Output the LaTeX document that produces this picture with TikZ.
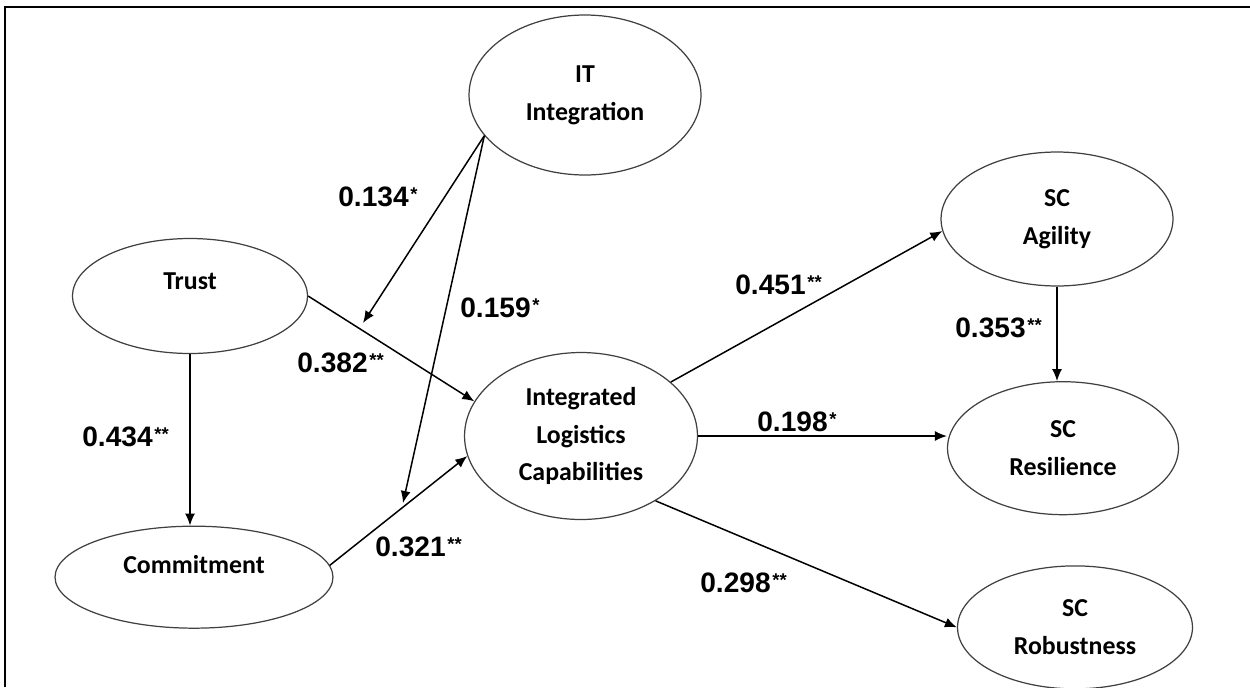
\documentclass[tikz,border=0pt]{standalone}
\usepackage{fontspec}
\setmainfont{Carlito}
\newfontfamily\numfont{Liberation Sans}
\usetikzlibrary{
  shapes.geometric,
  calc,
  positioning,
  arrows.meta
}
\newcommand{\sig}[2]{#1\kern1pt\raisebox{3.5pt}{\fontsize{10.5}{11}\selectfont #2}}

\begin{document}
\begin{tikzpicture}[x=0.02cm,y=-0.02cm,
    >={Latex[length=2.4mm,width=2mm]},
    construct/.style={ellipse,draw=black!75,line width=0.7pt,align=center,inner sep=0pt,
      font=\bfseries\fontsize{14.7}{21.5}\selectfont},
    coef/.style={anchor=west,inner sep=0pt,font=\numfont\bfseries\fontsize{16}{18}\selectfont},
    link/.style={->,line width=0.85pt}]
    \useasboundingbox (0,0) rectangle (1250,687);
    \draw[line width=0.05cm] (5,687) -- (5,7) -- (1250,7);

    \node[construct,minimum width=4.64cm,minimum height=3.2cm] (it) at (585,95) {IT\\Integration};
    \node[construct,minimum width=4.7cm,minimum height=2.3cm,text depth=0.6cm] (trust) at (190,296) {Trust};
    \node[construct,minimum width=5.56cm,minimum height=2.04cm,text depth=0.5cm,below=3.43cm of trust,xshift=0.08cm] (commit) {Commitment};
    \node[construct,minimum width=4.66cm,minimum height=3.34cm] (ilc) at (581,436) {Integrated\\Logistics\\Capabilities};
    \node[construct,minimum width=4.64cm,minimum height=2.68cm] (agility) at (1057,219) {SC\\Agility};
    \node[construct,minimum width=4.62cm,minimum height=2.66cm,below=1.89cm of agility,xshift=0.12cm] (resil) {SC\\Resilience};
    \node[construct,minimum width=4.7cm,minimum height=2.46cm,below=1cm of resil,xshift=0.24cm] (robust) {SC\\Robustness};

    \coordinate (m1) at (363,323);
    \coordinate (m2) at (403,503);

    \draw[link] (trust.east) -- (ilc.162);
    \draw[link] (commit.5) -- (ilc.190);
    \draw[link] (trust.south) -- (trust.south |- commit.north);
    \draw[link] (it.202) -- (m1);
    \draw[link] (it.202) -- (m2);
    \draw[link] (ilc.31) -- (agility.186);
    \draw[link] (ilc.east) -- (ilc.east -| resil.west);
    \draw[link] (ilc.-41) -- (robust.west);
    \draw[link] (agility.south) -- (agility.south |- resil.north);

    % path coefficients
    \node[coef] (c134) at (338,197) {\sig{0.134}{*}};
    \node[coef] (c159) at (460,308) {\sig{0.159}{*}};
    \node[coef] (c382) at (297,363) {\sig{0.382}{**}};
    \node[coef] (c434) at (82,437) {\sig{0.434}{**}};
    \node[coef] (c321) at (375,547) {\sig{0.321}{**}};
    \node[coef] (c451) at (735,285) {\sig{0.451}{**}};
    \node[coef] (c353) at (955,328) {\sig{0.353}{**}};
    \node[coef] (c198) at (757,422) {\sig{0.198}{*}};
    \node[coef] (c298) at (700,583) {\sig{0.298}{**}};
\end{tikzpicture}
\end{document}
